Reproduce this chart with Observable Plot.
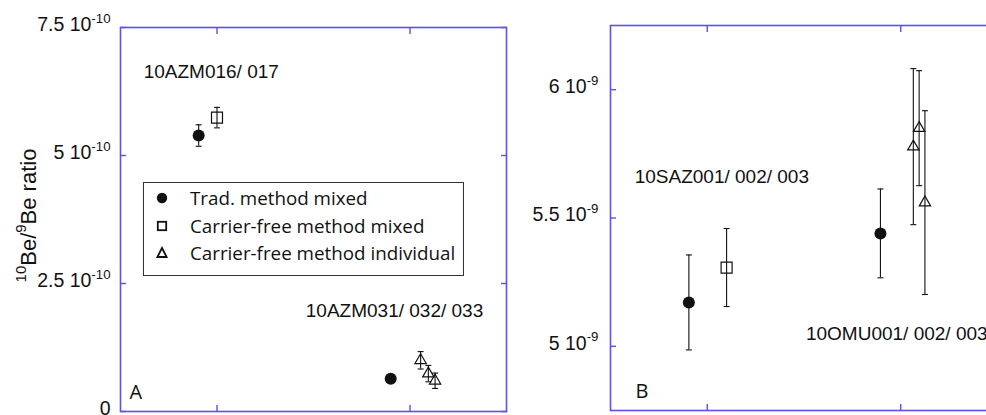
<!DOCTYPE html>
<html>
<head>
<meta charset="utf-8">
<script src="https://cdn.jsdelivr.net/npm/d3@7"></script>
<script src="https://cdn.jsdelivr.net/npm/@observablehq/plot@0.6"></script>
<style>
  body { margin: 0; background: #fff; }
  #wrap { position: relative; width: 986px; height: 415px; overflow: hidden; background: #fff; }
  .panel { position: absolute; top: 0; width: 510px; height: 415px; }
  .panel svg { max-width: none !important; }
  #legend { position: absolute; left: 143px; top: 182px; width: 319px; height: 92px; border: 1.5px solid #333;
            font-family: "Open Sans", Lato, sans-serif; font-size: 18.8px; color: #111; background: #fff; }
  .row { position: absolute; left: 0; height: 24px; width: 100%; }
  .row svg { position: absolute; left: 8px; top: 2px; }
  .row span { position: absolute; left: 46px; top: 0; line-height: 24px; white-space: nowrap; }
</style>
</head>
<body>
<div id="wrap">
  <div id="pa" class="panel" style="left:0px"></div>
  <div id="pb" class="panel" style="left:500px"></div>
  <div id="legend"></div>
</div>
<script>
// ---------- data ----------
const xTicks = [1, 3];

// Panel A
const yTicksA = [0, 2.5e-10, 5e-10, 7.5e-10];
const yTickLabelsA = ["0", "2.5 10^{-10}", "5 10^{-10}", "7.5 10^{-10}"];
const tradA_x = [0.81, 2.80];
const tradA_y = [5.39e-10, 0.64e-10];
const tradA_err = [0.21e-10, 0.06e-10];
const mixA_x = [1.0];
const mixA_y = [5.74e-10];
const mixA_err = [0.20e-10];
const indA_x = [3.11, 3.19, 3.26];
const indA_y = [1.00e-10, 0.74e-10, 0.60e-10];
const indA_err = [0.17e-10, 0.16e-10, 0.15e-10];
const labelsA_text = ["10AZM016/ 017", "10AZM031/ 032/ 033"];
const labelsA_x = [0.24, 1.92];
const labelsA_y = [6.52e-10, 1.84e-10];

// Panel B
const yTicksB = [5e-9, 5.5e-9, 6e-9];
const yTickLabelsB = ["5 10^{-9}", "5.5 10^{-9}", "6 10^{-9}"];
const tradB_x = [0.81, 2.79];
const tradB_y = [5.171e-9, 5.44e-9];
const tradB_err = [0.185e-9, 0.173e-9];
const mixB_x = [1.2];
const mixB_y = [5.307e-9];
const mixB_err = [0.152e-9];
const indB_x = [3.13, 3.19, 3.25];
const indB_y = [5.778e-9, 5.85e-9, 5.56e-9];
const indB_err = [0.304e-9, 0.224e-9, 0.358e-9];
const labelsB_text = ["10SAZ001/ 002/ 003", "10OMU001/ 002/ 003"];
const labelsB_x = [0.25, 2.02];
const labelsB_y = [5.638e-9, 5.023e-9];

const yTitle = "^{10}Be/^{9}Be ratio";
const legendItems = ["Trad. method mixed", "Carrier-free method mixed", "Carrier-free method individual"];

// ---------- helpers ----------
const BLUE = "#5b50f0";
const INK = "#111";
const zip = (xs, ys, es) => xs.map((x, i) => ({x, y: ys[i], e: es[i]}));
const capSymbol = { draw(ctx, size) { const w = Math.sqrt(size / Math.PI); ctx.moveTo(-w, 0); ctx.lineTo(w, 0); } };

function supify(svg) {
  d3.select(svg).selectAll("text").each(function () {
    const s = this.textContent;
    if (!s.includes("^{")) return;
    let el = this, fs = null;
    while (el && el.getAttribute) { const a = el.getAttribute("font-size"); if (a) { fs = parseFloat(a); break; } el = el.parentNode; }
    if (!fs) fs = 18;
    this.textContent = "";
    const parts = s.split(/\^\{([^}]*)\}/);
    let raised = false;
    const shift = fs * 0.42;
    parts.forEach((p, i) => {
      if (!p) return;
      const sup = i % 2 === 1;
      const t = d3.select(this).append("tspan").text(p);
      if (sup) { t.attr("font-size", fs * 0.68); if (!raised) t.attr("dy", -shift); raised = true; }
      else { if (raised) t.attr("dy", shift); raised = false; }
    });
  });
}

function panel(o) {
  const trad = zip(o.tradX, o.tradY, o.tradE);
  const mix = zip(o.mixX, o.mixY, o.mixE);
  const ind = zip(o.indX, o.indY, o.indE);
  const all = [...trad, ...mix, ...ind];
  const labels = o.labText.map((t, i) => ({t, x: o.labX[i], y: o.labY[i]}));
  const tickMap = new Map(o.yTicks.map((t, i) => [t, o.yTickLabels[i]]));
  const marks = [
    Plot.frame({stroke: BLUE, strokeWidth: 1.6}),
    Plot.axisX(xTicks, {anchor: "bottom", tickSize: -6, stroke: BLUE, strokeWidth: 1.4, tickFormat: () => "", label: null}),
    Plot.axisX(xTicks, {anchor: "top", tickSize: -6, stroke: BLUE, strokeWidth: 1.4, tickFormat: () => "", label: null}),
    Plot.axisY(o.yTicks, {anchor: "left", tickSize: -6, stroke: BLUE, strokeWidth: 1.4, tickFormat: () => "", label: null}),
    Plot.axisY(o.yTicks, {anchor: "right", tickSize: -6, stroke: BLUE, strokeWidth: 1.4, tickFormat: () => "", label: null}),
    Plot.axisY(o.yTicks, {anchor: "left", tickSize: 0, tickPadding: o.tickPad, dy: -3, tickFormat: d => tickMap.get(d), fontSize: 19.5, fill: INK, label: null}),
    Plot.ruleX(all, {x: "x", y1: d => d.y - d.e, y2: d => d.y + d.e, stroke: INK, strokeWidth: 1.1}),
    Plot.dot(all, {x: "x", y: d => d.y - d.e, symbol: capSymbol, r: 3, stroke: INK, strokeWidth: 1.1}),
    Plot.dot(all, {x: "x", y: d => d.y + d.e, symbol: capSymbol, r: 3, stroke: INK, strokeWidth: 1.1}),
    Plot.dot(trad, {x: "x", y: "y", r: 6, fill: INK, stroke: "none"}),
    Plot.dot(mix, {x: "x", y: "y", symbol: "square", r: 6.2, fill: "none", stroke: INK, strokeWidth: 1.2}),
    Plot.dot(ind, {x: "x", y: "y", symbol: "triangle", r: 4.2, fill: "none", stroke: INK, strokeWidth: 1.2}),
    Plot.text(labels, {x: "x", y: "y", text: "t", textAnchor: "start", lineAnchor: "bottom", fontSize: 19, fill: INK}),
    Plot.text([o.letter], {frameAnchor: "bottom-left", dx: o.letterDx, dy: -13, textAnchor: "start", lineAnchor: "bottom",
      fontSize: 20, fontFamily: "'Open Sans', Lato, sans-serif", fill: INK})
  ];
  if (o.title) {
    marks.push(Plot.text([o.title], {frameAnchor: "left", rotate: -90, dx: -85, dy: -4, lineAnchor: "bottom", textAnchor: "middle", fontSize: 22, fill: INK}));
  }
  const svg = Plot.plot({
    width: 510, height: 415,
    marginLeft: o.mL, marginRight: o.mR, marginTop: o.mT, marginBottom: o.mB,
    x: {domain: [0, 4]},
    y: {domain: o.yDomain},
    style: {fontFamily: "'Liberation Sans', Arial, sans-serif", fontSize: "18px", overflow: "visible", background: "transparent", color: INK, maxWidth: "none"},
    marks
  });
  supify(svg);
  return svg;
}

document.getElementById("pa").append(panel({
  mL: 120, mR: 4, mT: 27, mB: 4, yDomain: [0, 7.5e-10], yTicks: yTicksA, yTickLabels: yTickLabelsA, tickPad: 10,
  tradX: tradA_x, tradY: tradA_y, tradE: tradA_err, mixX: mixA_x, mixY: mixA_y, mixE: mixA_err,
  indX: indA_x, indY: indA_y, indE: indA_err, labText: labelsA_text, labX: labelsA_x, labY: labelsA_y,
  letter: "A", letterDx: 9, title: yTitle
}));
document.getElementById("pb").append(panel({
  mL: 110, mR: 13, mT: 25, mB: 5, yDomain: [4.75e-9, 6.25e-9], yTicks: yTicksB, yTickLabels: yTickLabelsB, tickPad: 12,
  tradX: tradB_x, tradY: tradB_y, tradE: tradB_err, mixX: mixB_x, mixY: mixB_y, mixE: mixB_err,
  indX: indB_x, indY: indB_y, indE: indB_err, labText: labelsB_text, labX: labelsB_x, labY: labelsB_y,
  letter: "B", letterDx: 25, title: null
}));

// legend (HTML overlay)
const legendSymbols = [
  '<circle cx="10" cy="10" r="5.2" fill="#111"/>',
  '<rect x="5.8" y="5.8" width="8.4" height="8.4" fill="none" stroke="#111" stroke-width="1.8"/>',
  '<path d="M10,5 L14.6,14 L5.4,14 Z" fill="none" stroke="#111" stroke-width="1.8" stroke-linejoin="miter"/>'
];
const rowTops = [3, 30.7, 58];
const leg = document.getElementById("legend");
legendItems.forEach((t, i) => {
  const r = document.createElement("div");
  r.className = "row";
  r.style.top = rowTops[i] + "px";
  r.innerHTML = `<svg width="20" height="20">${legendSymbols[i]}</svg>`;
  const s = document.createElement("span");
  s.textContent = t;
  r.append(s);
  leg.append(r);
});
</script>
</body>
</html>
